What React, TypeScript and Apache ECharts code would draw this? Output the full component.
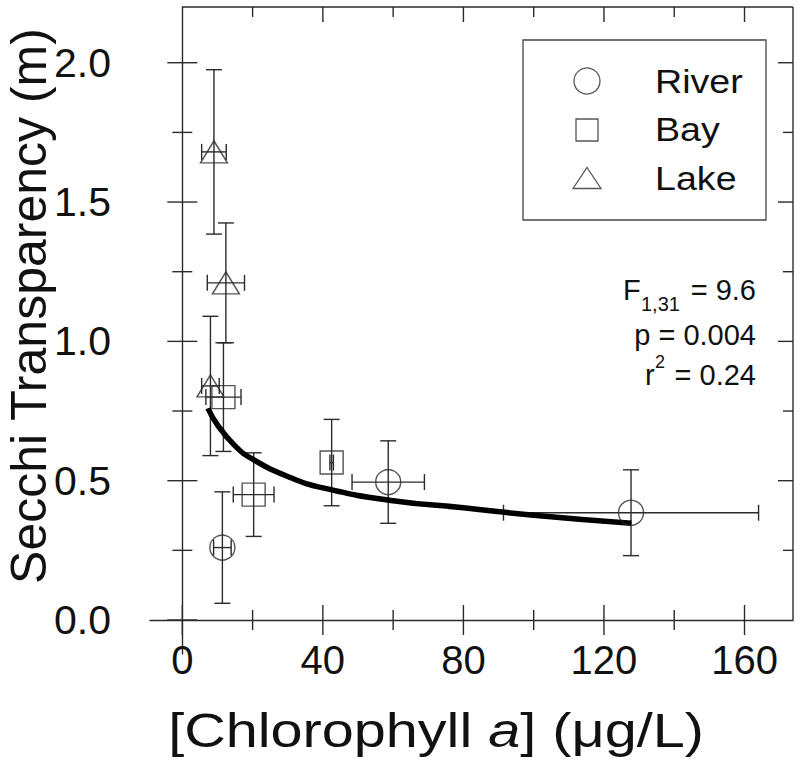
import React, { useEffect, useRef } from "react";
import * as echarts from "echarts";

// ---- Data ----
const xMajorTicks = [0, 40, 80, 120, 160];
const xMinorTicks = [20, 60, 100, 140];
const yMajorTicks = [0, 0.5, 1.0, 1.5, 2.0];
const yMinorTicks = [0.25, 0.75, 1.25, 1.75];

const riverX = [11.4, 58.6, 127.7];
const riverY = [0.26, 0.495, 0.385];
const riverXErr = [2.5, 10.3, 36.3];
const riverYErr = [0.2, 0.148, 0.154];

const bayX = [11.7, 20.3, 42.5];
const bayY = [0.8, 0.45, 0.565];
const bayXErr = [5.0, 5.8, 0.5];
const bayYErr = [0.195, 0.15, 0.155];

const lakeX = [9.0, 12.4, 8.0];
const lakeY = [1.68, 1.21, 0.84];
const lakeXErr = [3.5, 5.3, 2.5];
const lakeYErr = [0.295, 0.215, 0.25];

const fitX = [7.3, 10, 15, 20, 30, 40, 60, 80, 100, 127.8];
const fitY = [0.76, 0.7, 0.625, 0.577, 0.515, 0.474, 0.428, 0.403, 0.376, 0.347];

const seriesNames = ["River", "Bay", "Lake"];

const FONT = "'Liberation Sans', Arial, Helvetica, sans-serif";
const INK = "#2b2b2b";

export default function App() {
  const ref = useRef<HTMLDivElement>(null);

  useEffect(() => {
    if (!ref.current) return;
    const chart = echarts.init(ref.current, null, { renderer: "svg" });

    const xMin = -9.2;
    const xMax = 173.8;
    const yMin = -0.122;
    const yMax = 2.2;

    const errData = (xs: number[], ys: number[], xe: number[], ye: number[]) =>
      xs.map((x, i) => [x, ys[i], xe[i], ye[i]]);

    const lineStyle = { stroke: INK, lineWidth: 1.4 };

    const renderErr = (_params: any, api: any) => {
      const x = api.value(0);
      const y = api.value(1);
      const xe = api.value(2);
      const ye = api.value(3);
      const top = api.coord([x, y + ye]);
      const bot = api.coord([x, y - ye]);
      const left = api.coord([x - xe, y]);
      const right = api.coord([x + xe, y]);
      const cap = 8;
      const children: any[] = [
        { type: "line", shape: { x1: top[0], y1: top[1], x2: bot[0], y2: bot[1] }, style: lineStyle },
        { type: "line", shape: { x1: top[0] - cap, y1: top[1], x2: top[0] + cap, y2: top[1] }, style: lineStyle },
        { type: "line", shape: { x1: bot[0] - cap, y1: bot[1], x2: bot[0] + cap, y2: bot[1] }, style: lineStyle },
      ];
      if (xe > 0) {
        children.push(
          { type: "line", shape: { x1: left[0], y1: left[1], x2: right[0], y2: right[1] }, style: lineStyle },
          { type: "line", shape: { x1: left[0], y1: left[1] - cap, x2: left[0], y2: left[1] + cap }, style: lineStyle },
          { type: "line", shape: { x1: right[0], y1: right[1] - cap, x2: right[0], y2: right[1] + cap }, style: lineStyle }
        );
      }
      return { type: "group", children };
    };

    const renderFrame = (_params: any, api: any) => {
      const o = api.coord([0, 0]);
      const tr = api.coord([xMax, yMax]);
      const children: any[] = [];
      const ln = (x1: number, y1: number, x2: number, y2: number) =>
        children.push({ type: "line", shape: { x1, y1, x2, y2 }, style: lineStyle });
      ln(o[0], tr[1], tr[0], tr[1]);
      ln(tr[0], tr[1], tr[0], o[1]);
      xMajorTicks.forEach((v) => {
        const p = api.coord([v, 0]);
        ln(p[0], o[1] - 15, p[0], o[1] + 15);
        if (v > 0) ln(p[0], tr[1], p[0], tr[1] + 15);
      });
      xMinorTicks.forEach((v) => {
        const p = api.coord([v, 0]);
        ln(p[0], o[1] - 10, p[0], o[1] + 10);
        ln(p[0], tr[1], p[0], tr[1] + 10);
      });
      yMajorTicks.forEach((v) => {
        const p = api.coord([0, v]);
        ln(o[0] - 15, p[1], o[0] + 15, p[1]);
        if (v > 0) ln(tr[0], p[1], tr[0] - 15, p[1]);
      });
      yMinorTicks.forEach((v) => {
        const p = api.coord([0, v]);
        ln(o[0] - 10, p[1], o[0] + 10, p[1]);
        ln(tr[0], p[1], tr[0] - 10, p[1]);
      });
      return { type: "group", children };
    };

    const markerStyle = { color: "transparent", borderColor: INK, borderWidth: 1.4 };

    const legendStroke = { stroke: "#555", lineWidth: 1.3, fill: "transparent" };
    const txt = (x: number, y: number, text: string, size: number, align: string, sx = 1) => ({
      type: "text",
      x,
      y,
      scaleX: sx,
      style: {
        text,
        fontSize: size,
        lineHeight: Math.round(size * 0.9),
        fontFamily: FONT,
        fill: "#111",
        align,
        verticalAlign: "middle",
      },
    });

    chart.setOption({
      animation: false,
      backgroundColor: "#ffffff",
      grid: { left: 150, right: 7, top: 7, bottom: 110 },
      xAxis: {
        type: "value",
        min: xMin,
        max: xMax,
        axisLine: { show: true, onZero: true, lineStyle: { color: INK, width: 1.4 } },
        axisTick: { show: false },
        splitLine: { show: false },
        axisLabel: {
          customValues: xMajorTicks,
          margin: -14,
          fontSize: 40,
          fontFamily: FONT,
          color: "#111",
          formatter: (v: number) => String(v),
        },
      },
      yAxis: {
        type: "value",
        min: yMin,
        max: yMax,
        axisLine: { show: true, onZero: true, lineStyle: { color: INK, width: 1.4 } },
        axisTick: { show: false },
        splitLine: { show: false },
        axisLabel: {
          customValues: yMajorTicks,
          margin: 39,
          fontSize: 41,
          fontFamily: FONT,
          color: "#111",
          formatter: (v: number) => v.toFixed(1),
        },
      },
      series: [
        { type: "custom", name: "frame", renderItem: renderFrame, data: [[0, 0]], clip: false, silent: true, z: 1 },
        { type: "custom", name: "River err", renderItem: renderErr, data: errData(riverX, riverY, riverXErr, riverYErr), z: 2 },
        { type: "custom", name: "Bay err", renderItem: renderErr, data: errData(bayX, bayY, bayXErr, bayYErr), z: 2 },
        { type: "custom", name: "Lake err", renderItem: renderErr, data: errData(lakeX, lakeY, lakeXErr, lakeYErr), z: 2 },
        {
          type: "line",
          name: "fit",
          data: fitX.map((x, i) => [x, fitY[i]]),
          smooth: true,
          symbol: "none",
          lineStyle: { color: "#000", width: 5.5 },
          z: 3,
        },
        {
          type: "scatter",
          name: seriesNames[0],
          symbol: "circle",
          symbolSize: 25,
          itemStyle: markerStyle,
          data: riverX.map((x, i) => [x, riverY[i]]),
          z: 4,
        },
        {
          type: "scatter",
          name: seriesNames[1],
          symbol: "rect",
          symbolSize: 23,
          itemStyle: markerStyle,
          data: bayX.map((x, i) => [x, bayY[i]]),
          z: 4,
        },
        {
          type: "scatter",
          name: seriesNames[2],
          symbol: "triangle",
          symbolSize: [27, 22],
          itemStyle: markerStyle,
          data: lakeX.map((x, i) => [x, lakeY[i]]),
          z: 4,
        },
      ],
      graphic: [
        {
          type: "rect",
          shape: { x: 523, y: 40, width: 243, height: 180 },
          style: { fill: "#fff", stroke: "#444", lineWidth: 1.3 },
          z: 10,
        },
        { type: "circle", shape: { cx: 587, cy: 81, r: 13 }, style: legendStroke, z: 11 },
        { type: "rect", shape: { x: 576, y: 119, width: 22, height: 22 }, style: legendStroke, z: 11 },
        {
          type: "polygon",
          shape: { points: [[587, 167.5], [601, 188.5], [573, 188.5]] },
          style: legendStroke,
          z: 11,
        },
        { ...txt(655, 81.5, seriesNames[0], 33, "left", 1.14), z: 11 },
        { ...txt(655, 129.5, seriesNames[1], 33, "left", 1.14), z: 11 },
        { ...txt(655, 178.5, seriesNames[2], 33, "left", 1.14), z: 11 },
        // statistics
        txt(623, 290, "F", 29, "left"),
        txt(641, 304, "1,31", 20, "left"),
        txt(756, 290, "= 9.6", 29, "right"),
        txt(756, 335, "p = 0.004", 29, "right"),
        txt(645, 375, "r", 29, "left"),
        txt(655, 362, "2", 18, "left"),
        txt(756, 375, "= 0.24", 29, "right"),
        // axis titles
        {
          type: "text",
          x: 29,
          y: 306,
          rotation: Math.PI / 2,
          style: {
            text: "Secchi Transparency (m)",
            fontSize: 50,
            lineHeight: 50,
            fontFamily: FONT,
            fill: "#111",
            align: "center",
            verticalAlign: "middle",
          },
        },
        {
          type: "text",
          x: 436,
          y: 730,
          scaleX: 1.2,
          style: {
            text: "[Chlorophyll {i|a}] (μg/L)",
            fontSize: 48,
            fontFamily: FONT,
            fill: "#111",
            align: "center",
            verticalAlign: "middle",
            rich: { i: { fontStyle: "italic", fontSize: 48, fontFamily: FONT, color: "#111" } },
          },
        },
      ],
    });

    return () => chart.dispose();
  }, []);

  return (
    <div
      ref={ref}
      style={{ position: "absolute", left: 0, top: 0, width: 800, height: 764, background: "#fff" }}
    />
  );
}
